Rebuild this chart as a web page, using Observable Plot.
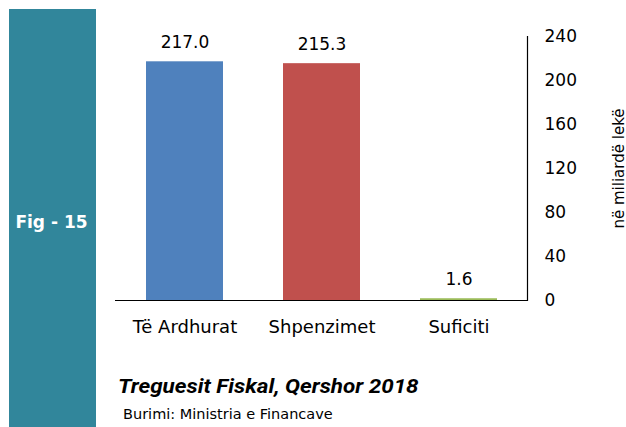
<!DOCTYPE html>
<html><head><meta charset="utf-8">
<script src="https://cdn.jsdelivr.net/npm/d3@7"></script>
<script src="https://cdn.jsdelivr.net/npm/@observablehq/plot@0.6"></script>
<style>
body{margin:0;background:#fff;}
#wrap{position:relative;width:626px;height:427px;overflow:hidden;font-family:"DejaVu Sans",sans-serif;}
#band{position:absolute;left:9px;top:9px;width:87px;height:418px;background:#31869b;}
#fig{position:absolute;left:8px;top:212px;width:87px;text-align:center;color:#fff;font:bold 17px "DejaVu Sans",sans-serif;}
#title{position:absolute;left:118px;top:374px;font:italic bold 20px Roboto,sans-serif;color:#000;transform:scaleX(1.12);transform-origin:0 0;white-space:nowrap;}
#src{position:absolute;left:123px;top:406px;font:14.5px "DejaVu Sans",sans-serif;color:#000;white-space:nowrap;}
#chart{position:absolute;left:0;top:0;}
</style></head>
<body><div id="wrap"><div id="band"></div><div id="fig">Fig - 15</div><div id="chart"></div>
<div id="title">Treguesit Fiskal, Qershor 2018</div><div id="src">Burimi: Ministria e Financave</div></div>
<script>
const categories = ["Të Ardhurat", "Shpenzimet", "Suficiti"];
const values = [217.0, 215.3, 1.6];
const colors = ["#4f81bd", "#c0504d", "#9bbb59"];
const yTicks = [0, 40, 80, 120, 160, 200, 240];
const data = categories.map((c, i) => ({cat: c, value: values[i], color: colors[i]}));

const plot = Plot.plot({
  width: 626, height: 427,
  marginTop: 36, marginBottom: 127, marginLeft: 115, marginRight: 99,
  style: {fontFamily: "DejaVu Sans, sans-serif", fontSize: "17px", color: "#000", background: "transparent"},
  x: {domain: categories, paddingInner: 0.44, paddingOuter: 0.22},
  y: {domain: [0, 240]},
  marks: [
    Plot.barY(data, {x: "cat", y: "value", fill: "color"}),
    Plot.text(data, {x: "cat", y: "value", text: d => d.value.toFixed(1), dy: -19, fontSize: 17, fill: "#000"}),
    Plot.ruleY([0], {stroke: "#000", strokeWidth: 1.2}),
    Plot.frame({anchor: "right", stroke: "#000", strokeWidth: 1.2}),
    Plot.axisX({tickSize: 0, tickPadding: 20, fontSize: 18, label: null}),
    Plot.axisY({anchor: "right", ticks: yTicks, tickSize: 0, tickPadding: 17, fontSize: 17, label: null, tickFormat: d => d}),
    Plot.axisY({anchor: "right", ticks: [], label: "në miliardë lekë", labelAnchor: "center", labelArrow: "none", labelOffset: 96, fontSize: 15})
  ]
});
document.getElementById("chart").appendChild(plot);
</script></body></html>
